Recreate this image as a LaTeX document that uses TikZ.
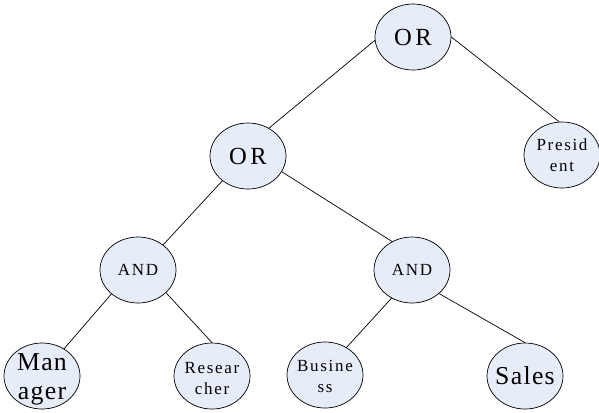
\documentclass[tikz,border=0pt]{standalone}
\usepackage{fontspec}
\setmainfont{Liberation Serif}
\usetikzlibrary{shapes.geometric}

\definecolor{gatefill}{RGB}{230,236,248}
\newcommand{\bigtext}{\addfontfeatures{LetterSpace=5}\fontsize{22}{25}\selectfont}
\newcommand{\ortext}{\addfontfeatures{LetterSpace=14}\fontsize{21}{25}\selectfont}
\newcommand{\smalltext}{\addfontfeatures{LetterSpace=10}\fontsize{14.5}{18}\selectfont}

\begin{document}
\begin{tikzpicture}[
    x=0.03cm, y=-0.03cm,
    gate/.style={ellipse, draw, fill=gatefill, line width=0.6pt,
        minimum width=2.28cm, minimum height=1.98cm, inner sep=0pt},
    big/.style={font=\bigtext, align=center},
    ortxt/.style={font=\ortext, align=center},
    small/.style={font=\smalltext, align=center},
    edge/.style={line width=0.6pt}
]
\useasboundingbox (0,0) rectangle (599,412);

% Upper levels
\node[gate, label={[ortxt]center:OR}] (or1) at (413,37) {};
\node[gate, label={[ortxt]center:OR}] (or2) at (248,156) {};
\node[gate, label={[small]center:Presid\\ent}] (pres) at (562,155) {};

\node[gate, label={[small]center:AND}] (and1) at (138,270) {};
\node[gate, label={[small]center:AND}] (and2) at (412,270) {};

% Leaves
\node[gate, label={[big,yshift=-3pt]center:Man\\ager}] (man) at (42,376) {};
\node[gate, label={[small,yshift=-2pt]center:Resear\\cher}] (res) at (212,376) {};
\node[gate, label={[small,yshift=-1pt]center:Busine\\ss}] (bus) at (325,375) {};
\node[gate, label={[big]center:Sales}] (sales) at (525,376) {};

\draw[edge] (or1.185) -- (or2.53);
\draw[edge] (or1.east) -- (pres.95);

\draw[edge] (or2.224) -- (and1.45);
\draw[edge] (or2.-25) -- (and2.125);

\draw[edge] (and1.222) -- (man.51);
\draw[edge] (and1.-39) -- (res.north);

\draw[edge] (and2.234) -- (bus.52);
\draw[edge] (and2.-41) -- (sales.north);

\end{tikzpicture}
\end{document}
